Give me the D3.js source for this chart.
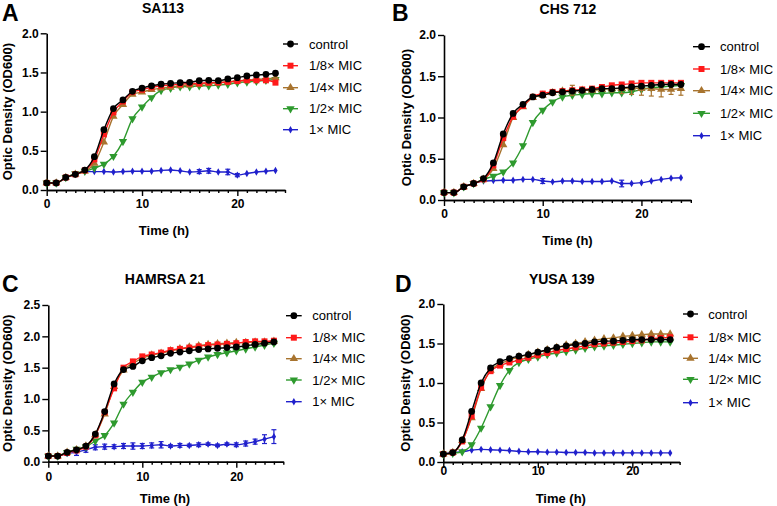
<!DOCTYPE html>
<html>
<head>
<meta charset="utf-8">
<script src="https://cdn.jsdelivr.net/npm/d3@7"></script>
<style>
html,body{margin:0;padding:0;background:#fff;}
svg{display:block;font-family:"Liberation Sans",Arial,Helvetica,sans-serif;}
</style>
</head>
<body>
<svg id="chart" width="777" height="506"></svg>
<script>
// ---------------- DATA ----------------
const hours = [0,1,2,3,4,5,6,7,8,9,10,11,12,13,14,15,16,17,18,19,20,21,22,23,24];
const seriesNames = ["control", "1/8× MIC", "1/4× MIC", "1/2× MIC", "1× MIC"];
const panelLetters = ["A", "B", "C", "D"];
const panelTitles = ["SA113", "CHS 712", "HAMRSA 21", "YUSA 139"];
const yTicksAB = [0, 0.5, 1.0, 1.5, 2.0];
const yTicksC = [0, 0.5, 1.0, 1.5, 2.0, 2.5];
const xTicks = [0, 10, 20];

// Panel A: SA113
const aControl = [0.09,0.09,0.16,0.20,0.255,0.425,0.77,1.04,1.15,1.26,1.30,1.33,1.35,1.36,1.37,1.375,1.395,1.40,1.395,1.417,1.434,1.455,1.468,1.476,1.49];
const aMic8    = [0.09,0.09,0.16,0.20,0.25,0.39,0.71,0.99,1.13,1.25,1.28,1.31,1.33,1.34,1.35,1.36,1.36,1.37,1.37,1.38,1.39,1.40,1.40,1.40,1.37];
const aMic4    = [0.09,0.09,0.16,0.20,0.24,0.34,0.61,0.94,1.09,1.22,1.25,1.28,1.30,1.31,1.33,1.34,1.35,1.36,1.37,1.38,1.39,1.40,1.41,1.42,1.43];
const aMic2    = [0.09,0.09,0.16,0.21,0.24,0.28,0.33,0.43,0.62,0.91,1.06,1.18,1.27,1.30,1.32,1.32,1.33,1.33,1.34,1.35,1.37,1.38,1.39,1.40,1.41];
const aMic1    = [0.09,0.09,0.16,0.20,0.235,0.235,0.235,0.23,0.235,0.24,0.24,0.24,0.25,0.255,0.245,0.23,0.235,0.245,0.23,0.23,0.19,0.21,0.23,0.24,0.25];
const aMic1Err = [0,0,0,0,0,0,0,0,0,0,0,0,0,0,0,0,0.025,0.03,0,0.035,0.02,0,0,0,0];

// Panel B: CHS 712
const bControl = [0.09,0.09,0.16,0.20,0.26,0.45,0.80,1.05,1.16,1.25,1.27,1.30,1.31,1.32,1.33,1.34,1.35,1.35,1.36,1.37,1.38,1.39,1.40,1.40,1.40];
const bMic8    = [0.09,0.09,0.16,0.20,0.25,0.42,0.75,1.01,1.14,1.25,1.29,1.31,1.32,1.33,1.34,1.35,1.37,1.39,1.40,1.41,1.42,1.42,1.42,1.42,1.42];
const bMic4    = [0.09,0.09,0.16,0.20,0.25,0.38,0.67,1.00,1.13,1.24,1.27,1.30,1.32,1.33,1.33,1.33,1.34,1.35,1.35,1.36,1.35,1.35,1.34,1.34,1.35];
const bMic4Err = [0,0,0,0,0,0,0,0,0,0,0,0,0,0.06,0,0,0,0.04,0.06,0.08,0.08,0.09,0.09,0.06,0.08];
const bMic2    = [0.09,0.09,0.16,0.20,0.25,0.29,0.34,0.45,0.66,0.94,1.09,1.19,1.25,1.27,1.28,1.29,1.29,1.30,1.30,1.31,1.34,1.36,1.37,1.38,1.39];
const bMic1    = [0.09,0.09,0.16,0.20,0.23,0.235,0.24,0.24,0.25,0.25,0.23,0.22,0.23,0.23,0.225,0.225,0.225,0.23,0.20,0.20,0.21,0.23,0.25,0.265,0.27];
const bMic1Err = [0,0,0,0,0,0,0,0,0,0,0.03,0,0,0,0,0,0,0,0.04,0,0,0,0,0,0];

// Panel C: HAMRSA 21
const cControl = [0.09,0.09,0.15,0.19,0.25,0.44,0.80,1.24,1.47,1.52,1.61,1.66,1.69,1.73,1.75,1.77,1.79,1.80,1.81,1.82,1.83,1.85,1.87,1.89,1.91];
const cMic8    = [0.09,0.09,0.14,0.18,0.24,0.42,0.79,1.17,1.50,1.60,1.68,1.71,1.74,1.78,1.80,1.82,1.84,1.86,1.87,1.88,1.89,1.91,1.92,1.92,1.93];
const cMic4    = [0.09,0.09,0.15,0.19,0.25,0.43,0.76,1.20,1.46,1.57,1.65,1.70,1.73,1.77,1.80,1.83,1.85,1.87,1.88,1.89,1.90,1.90,1.91,1.91,1.92];
const cMic2    = [0.09,0.09,0.15,0.20,0.24,0.33,0.42,0.62,0.92,1.11,1.27,1.35,1.42,1.47,1.51,1.56,1.62,1.67,1.71,1.74,1.77,1.80,1.83,1.86,1.89];
const cMic1    = [0.09,0.09,0.13,0.15,0.19,0.23,0.24,0.24,0.25,0.25,0.25,0.26,0.27,0.25,0.26,0.26,0.27,0.28,0.26,0.28,0.27,0.29,0.32,0.36,0.40];
const cMic1Err = [0,0,0.03,0.05,0.04,0.04,0.04,0.03,0.04,0.05,0.04,0.04,0.05,0.02,0.03,0.02,0.03,0.02,0.02,0.02,0.03,0.04,0.04,0.07,0.11];

// Panel D: YUSA 139
const dControl = [0.10,0.12,0.28,0.64,1.00,1.19,1.27,1.31,1.34,1.36,1.39,1.42,1.45,1.47,1.49,1.50,1.52,1.53,1.53,1.54,1.55,1.55,1.55,1.55,1.55];
const dMic8    = [0.10,0.12,0.26,0.58,0.94,1.15,1.22,1.26,1.29,1.32,1.35,1.38,1.41,1.43,1.45,1.47,1.49,1.50,1.51,1.52,1.53,1.54,1.56,1.57,1.58];
const dMic4    = [0.10,0.12,0.27,0.56,0.93,1.16,1.24,1.29,1.33,1.36,1.39,1.42,1.45,1.48,1.50,1.52,1.54,1.56,1.57,1.59,1.60,1.61,1.62,1.62,1.62];
const dMic2    = [0.10,0.11,0.13,0.22,0.43,0.70,0.97,1.16,1.26,1.30,1.33,1.36,1.38,1.40,1.42,1.44,1.46,1.47,1.48,1.49,1.50,1.51,1.52,1.52,1.52];
const dMic1    = [0.10,0.12,0.13,0.15,0.16,0.155,0.15,0.145,0.135,0.13,0.13,0.125,0.125,0.12,0.12,0.12,0.115,0.115,0.115,0.115,0.115,0.115,0.115,0.115,0.115];

// ---------------- STYLE / LAYOUT ----------------
const colors = ["#000000", "#ff1a1a", "#a8742f", "#2e9a2e", "#2020cc"];
const symbols = [d3.symbolCircle, d3.symbolSquare, d3.symbolTriangle, "down", d3.symbolDiamond];
const symSize = [36, 36, 30, 30, 16];

const layouts = [
  {x0:46.7, x1:285, y0:190, y1:33.3, letterX:2, letterY:21, titleX:163, titleY:12.5, ylabX:7.5, xlabX:164, xlabY:235, tickDy:17.5,
   legLineX:[283,298], legText:309, legRows:[44,65.7,87.7,108.7,129.7]},
  {x0:444, x1:690.8, y0:200, y1:35, letterX:392, letterY:21, titleX:568, titleY:14, ylabX:406.5, xlabX:567.5, xlabY:245, tickDy:17.5,
   legLineX:[693,710], legText:720, legRows:[46.7,69,90.7,113.3,135.7]},
  {x0:48.3, x1:283.3, y0:461.7, y1:305, letterX:2, letterY:292, titleX:165, titleY:284, ylabX:7.5, xlabX:165, xlabY:503, tickDy:19,
   legLineX:[286,301.7], legText:312.3, legRows:[315.7,337.7,358.7,380,401.7]},
  {x0:443.3, x1:679.6, y0:462, y1:304, letterX:395, letterY:292, titleX:561.7, titleY:284, ylabX:405.8, xlabX:560.8, xlabY:503, tickDy:13,
   legLineX:[683,698], legText:708.3, legRows:[314,337.3,358.3,379.3,402.7]}
];

const panels = [
  {yMax:2.0, yTicks:yTicksAB, series:[aControl,aMic8,aMic4,aMic2,aMic1], errs:[null,null,null,null,aMic1Err]},
  {yMax:2.0, yTicks:yTicksAB, series:[bControl,bMic8,bMic4,bMic2,bMic1], errs:[null,null,bMic4Err,null,bMic1Err]},
  {yMax:2.5, yTicks:yTicksC,  series:[cControl,cMic8,cMic4,cMic2,cMic1], errs:[null,null,null,null,cMic1Err]},
  {yMax:2.0, yTicks:yTicksAB, series:[dControl,dMic8,dMic4,dMic2,dMic1], errs:[null,null,null,null,null]}
];

const svg = d3.select("#chart");

function symbolPath(i) {
  if (symbols[i] === "down") {
    return d3.symbol().type(d3.symbolTriangle).size(symSize[i])();
  }
  return d3.symbol().type(symbols[i]).size(symSize[i])();
}
function symbolTransform(i, x, y) {
  return symbols[i] === "down" ? `translate(${x},${y}) rotate(180)` : `translate(${x},${y})`;
}

panels.forEach((p, pi) => {
  const L = layouts[pi];
  const g = svg.append("g");
  const x = d3.scaleLinear().domain([0, 25]).range([L.x0, L.x1]);
  const y = d3.scaleLinear().domain([0, p.yMax]).range([L.y0, L.y1]);

  // panel letter & title
  g.append("text").attr("x", L.letterX).attr("y", L.letterY)
    .attr("font-size", 23).attr("font-weight", "bold").text(panelLetters[pi]);
  g.append("text").attr("x", L.titleX).attr("y", L.titleY).attr("text-anchor", "middle")
    .attr("font-size", 14).attr("font-weight", "bold").text(panelTitles[pi]);

  // y axis
  const yAxis = g.append("g").attr("transform", `translate(${L.x0},0)`)
    .call(d3.axisLeft(y).tickValues(p.yTicks).tickFormat(d3.format(".1f")).tickSize(6).tickSizeOuter(0).tickPadding(2));
  // x axis minor ticks
  const xMinor = g.append("g").attr("transform", `translate(0,${L.y0})`)
    .call(d3.axisBottom(x).tickValues(hours.concat([25]).filter(h => h % 10 !== 0)).tickSize(3).tickSizeOuter(0).tickFormat(""));
  const xAxis = g.append("g").attr("transform", `translate(0,${L.y0})`)
    .call(d3.axisBottom(x).tickValues(xTicks).tickSize(6).tickSizeOuter(0).tickFormat(d3.format("d")));
  [yAxis, xMinor, xAxis].forEach(a => {
    a.selectAll("path.domain").attr("stroke", "#000").attr("stroke-width", 1.6);
    a.selectAll(".tick line").attr("stroke", "#000").attr("stroke-width", 1.4);
    a.selectAll("text").attr("font-size", 12).attr("font-weight", "bold").attr("fill", "#000")
      .attr("font-family", "'Liberation Sans',Arial,sans-serif");
  });
  xAxis.selectAll(".tick text").attr("dy", null).attr("y", L.tickDy);

  // axis labels
  g.append("text").attr("transform", `translate(${L.ylabX},${(L.y0 + L.y1) / 2}) rotate(-90)`)
    .attr("text-anchor", "middle").attr("dy", "0.35em")
    .attr("font-size", 13).attr("font-weight", "bold").text("Optic Density (OD600)");
  g.append("text").attr("x", L.xlabX).attr("y", L.xlabY).attr("text-anchor", "middle")
    .attr("font-size", 13).attr("font-weight", "bold").text("Time (h)");

  const line = d3.line().x((d, i) => x(hours[i])).y(d => y(d)).curve(d3.curveMonotoneX);

  // draw series, 1x MIC first, control last
  for (let si = 4; si >= 0; si--) {
    const vals = p.series[si];
    const sg = g.append("g");
    const err = p.errs[si];
    if (err) {
      vals.forEach((v, i) => {
        if (!err[i]) return;
        const xx = x(hours[i]);
        sg.append("line").attr("x1", xx).attr("x2", xx).attr("y1", y(v - err[i])).attr("y2", y(v + err[i]))
          .attr("stroke", colors[si]).attr("stroke-width", 1.2);
        [v - err[i], v + err[i]].forEach(e => sg.append("line").attr("x1", xx - 2.5).attr("x2", xx + 2.5)
          .attr("y1", y(e)).attr("y2", y(e)).attr("stroke", colors[si]).attr("stroke-width", 1.2));
      });
    }
    sg.append("path").datum(vals).attr("d", line).attr("fill", "none")
      .attr("stroke", colors[si]).attr("stroke-width", 1.4);
    sg.selectAll("path.pt").data(vals).enter().append("path").attr("class", "pt")
      .attr("d", symbolPath(si))
      .attr("transform", (d, i) => symbolTransform(si, x(hours[i]), y(d)))
      .attr("fill", colors[si]);
  }

  // legend
  seriesNames.forEach((name, si) => {
    const ly = L.legRows[si];
    const mx = (L.legLineX[0] + L.legLineX[1]) / 2;
    g.append("line").attr("x1", L.legLineX[0]).attr("x2", L.legLineX[1]).attr("y1", ly).attr("y2", ly)
      .attr("stroke", colors[si]).attr("stroke-width", 1.4);
    g.append("path").attr("d", symbolPath(si)).attr("transform", symbolTransform(si, mx, ly)).attr("fill", colors[si]);
    g.append("text").attr("x", L.legText).attr("y", ly).attr("dy", "0.35em")
      .attr("font-size", 13).attr("fill", "#000").text(name);
  });
});
</script>
</body>
</html>
